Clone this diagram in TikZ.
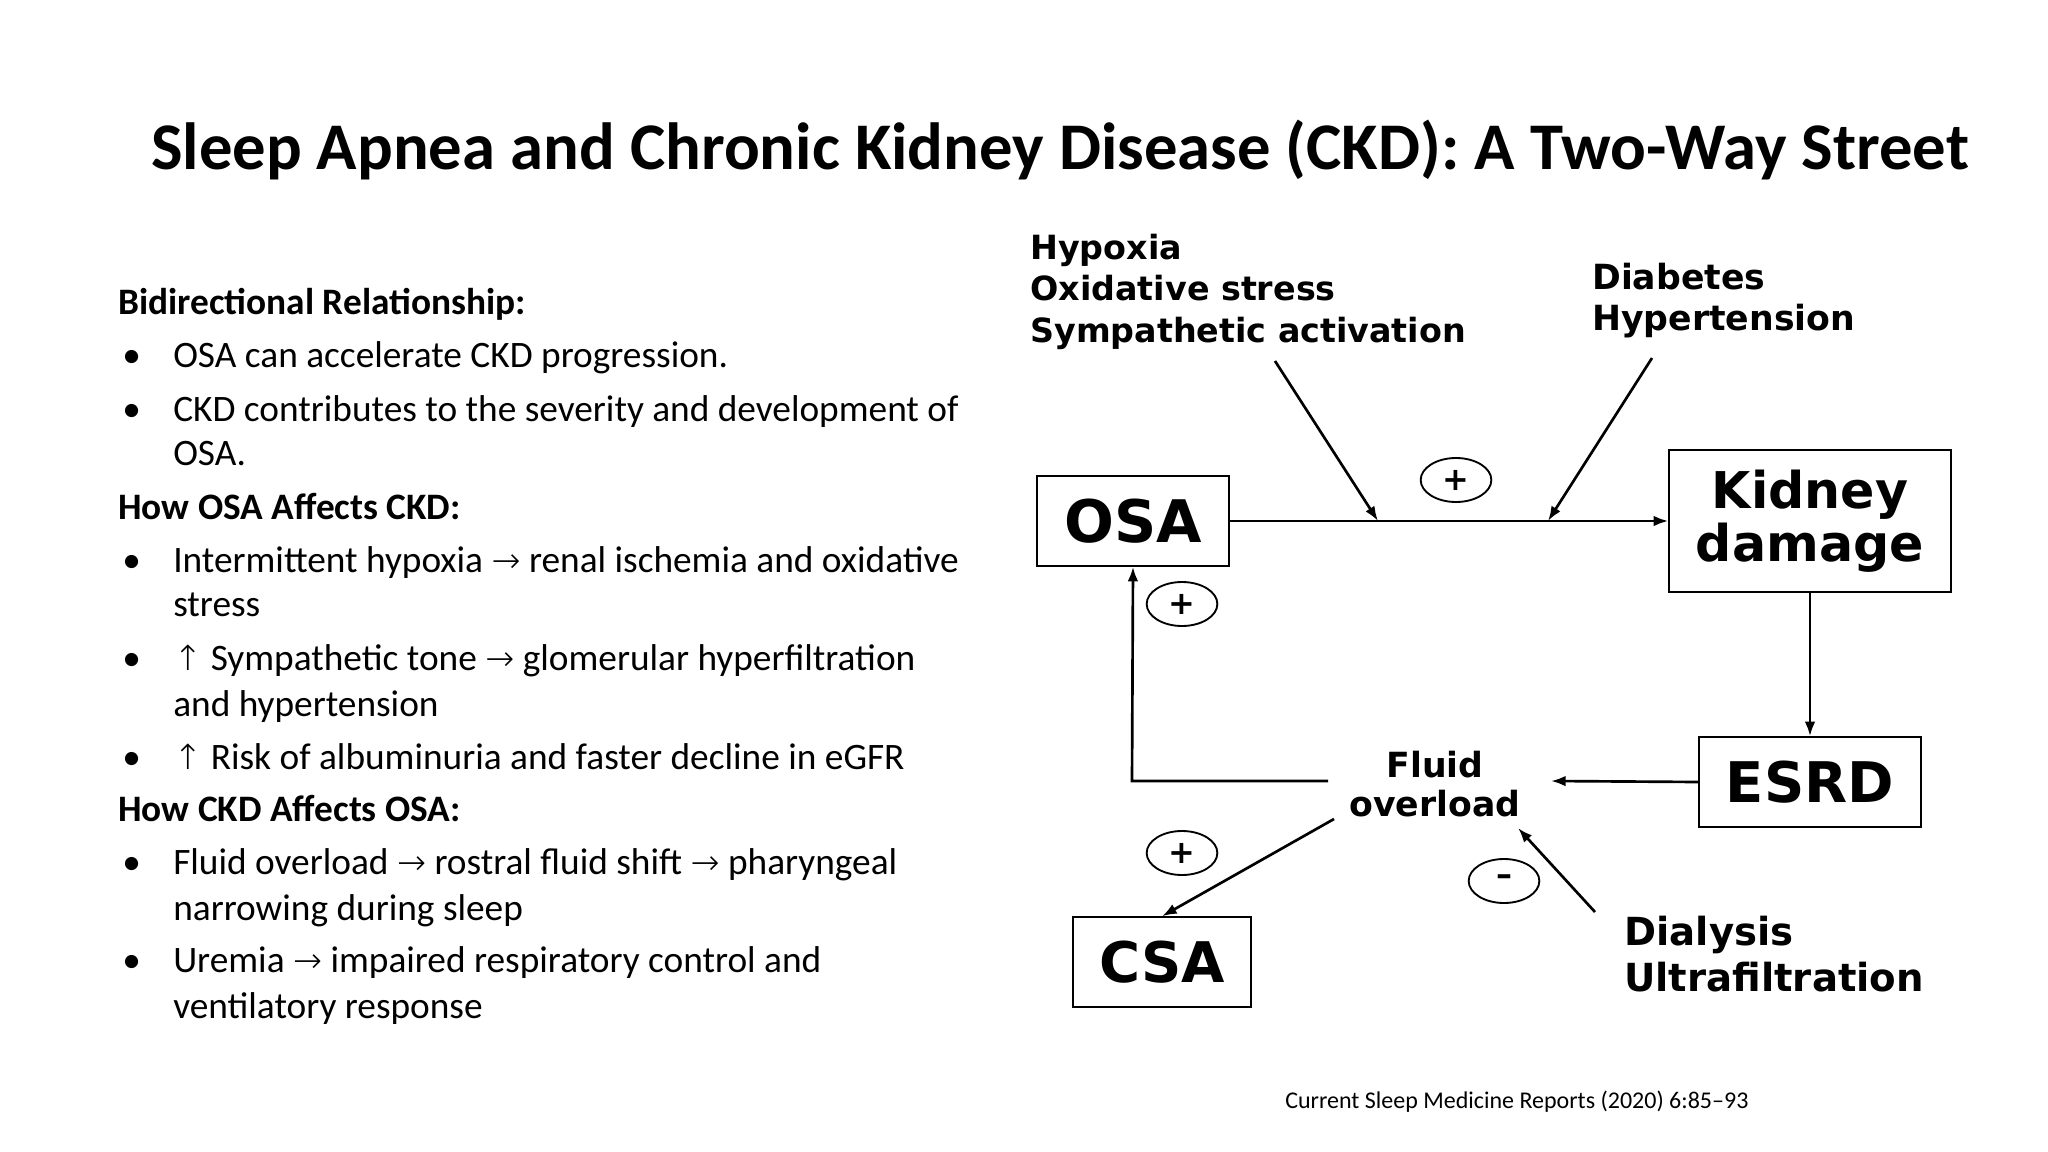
\documentclass[tikz,border=0pt]{standalone}
\usepackage{fontspec}
\setmainfont{Carlito}
\newfontfamily\dv{DejaVu Sans}
\newfontfamily\dvx{DejaVu Sans ExtraLight}
\usetikzlibrary{arrows.meta,shapes.geometric}
\newcommand{\fs}[1]{\fontsize{#1}{#1}\selectfont}
\newcommand{\ar}{{\dvx\fs{26}→}}
\newcommand{\up}{{\dvx\fs{26}↑}}
\begin{document}
\begin{tikzpicture}[x=0.75pt,y=-0.75pt,
  bl/.style={anchor=base west,inner sep=0pt,font=\fs{28}},
  hd/.style={anchor=base west,inner sep=0pt,font=\bfseries\fs{28}},
  lab/.style={anchor=base west,inner sep=0pt,font=\dv\bfseries\fs{25},align=left},
  box/.style={draw,line width=1.6pt,inner sep=0pt,align=center},
  sgn/.style={draw,ellipse,line width=1.4pt,minimum width=53pt,minimum height=33pt,inner sep=0pt,font=\dv\bfseries\fs{24}},
  arr/.style={line width=2pt,-{Latex[length=11pt,width=8pt]}}]
\useasboundingbox (0,0) rectangle (2048,1152);
\node[anchor=base,inner sep=0pt,font=\bfseries\fs{50}] (title) at (1060,170) {Sleep Apnea and Chronic Kidney Disease (CKD): A Two-Way Street};
% left text
\node[hd] (h1) at (118,314) {Bidirectional Relationship:};
\node[bl] (b1) at (122,367) {•}; \node[bl] (t1) at (173,367) {OSA can accelerate CKD progression.};
\node[bl] (b2) at (122,421) {•}; \node[bl] (t2) at (173,421) {CKD contributes to the severity and development of};
\node[bl] (t2b) at (173,465) {OSA.};
\node[hd] (h2) at (118,519) {How OSA Affects CKD:};
\node[bl] (b3) at (122,572) {•}; \node[bl] (t3) at (173,572) {Intermittent hypoxia \ar{} renal ischemia and oxidative};
\node[bl] (t3b) at (173,616) {stress};
\node[bl] (b4) at (122,670) {•}; \node[bl] (t4) at (173,670) {\up{} Sympathetic tone \ar{} glomerular hyperfiltration};
\node[bl] (t4b) at (173,716) {and hypertension};
\node[bl] (b5) at (122,769) {•}; \node[bl] (t5) at (173,769) {\up{} Risk of albuminuria and faster decline in eGFR};
\node[hd] (h3) at (118,821) {How CKD Affects OSA:};
\node[bl] (b6) at (122,874) {•}; \node[bl] (t6) at (173,874) {Fluid overload \ar{} rostral fluid shift \ar{} pharyngeal};
\node[bl] (t6b) at (173,920) {narrowing during sleep};
\node[bl] (b7) at (122,972) {•}; \node[bl] (t7) at (173,972) {Uremia \ar{} impaired respiratory control and};
\node[bl] (t7b) at (173,1018) {ventilatory response};
% diagram
\begin{scope}[shift={(-5,-4)}]
\node[box,minimum width=144pt,minimum height=67pt,font=\dv\bfseries\fs{44}] (osa) at (1138,525) {OSA};
\node[box,minimum width=211pt,minimum height=107pt,font=\dv\bfseries\fs{38}] (kid) at (1815,525) {Kidney\\[2pt]damage};
\node[box,minimum width=166pt,minimum height=67pt,font=\dv\bfseries\fs{42}] (esrd) at (1815,786) {ESRD};
\node[box,minimum width=134pt,minimum height=67pt,font=\dv\bfseries\fs{42}] (csa) at (1167,966) {CSA};
\node[inner sep=2pt,font=\dv\bfseries\fs{26},align=center] (fl) at (1440,788) {Fluid\\[3pt]overload};
\node[lab] (hyp) at (1035,263) {Hypoxia};
\node[lab] (oxi) at (1035,304) {Oxidative stress};
\node[lab] (sym) at (1035,346) {Sympathetic activation};
\node[lab,font=\dv\bfseries\fs{26}] (dia) at (1597,293) {Diabetes};
\node[lab,font=\dv\bfseries\fs{26}] (hyt) at (1597,334) {Hypertension};
\node[lab,font=\dv\bfseries\fs{29}] (dial) at (1629,949) {Dialysis};
\node[lab,font=\dv\bfseries\fs{29}] (ultra) at (1629,995) {Ultrafiltration};
\node[sgn] (p1) at (1461,484) {+};
\node[sgn] (p2) at (1187,608) {+};
\node[sgn] (p3) at (1187,857) {+};
\node[sgn] (m1) at (1509,885) {\raisebox{1pt}{–}};
\coordinate (j1) at (1383,525);
\coordinate (j2) at (1553,525);
\coordinate (s1) at (1280,365);
\coordinate (s2) at (1657,362);
\coordinate (fo1) at (1333,785);
\coordinate (fo2) at (1137,785);
\coordinate (fc) at (1339,823);
\coordinate (ft) at (1556,785);
\coordinate (dt) at (1523,832);
\coordinate (ds) at (1600,916);
\draw[arr] (osa.east) -- (kid.west);
\draw[arr] (s1) -- (j1);
\draw[arr] (s2) -- (j2);
\draw[arr] (kid.south) -- (esrd.north);
\draw[arr] (esrd.west) -- (ft);
\draw[arr] (fo1) -- (fo2) -- (osa.south);
\draw[arr] (fc) -- (csa.north);
\draw[arr] (ds) -- (dt);
\end{scope}
\node[anchor=base west,inner sep=0pt,font=\fs{18}] (cite) at (1285,1108) {Current Sleep Medicine Reports (2020) 6:85–93};
\end{tikzpicture}
\end{document}
